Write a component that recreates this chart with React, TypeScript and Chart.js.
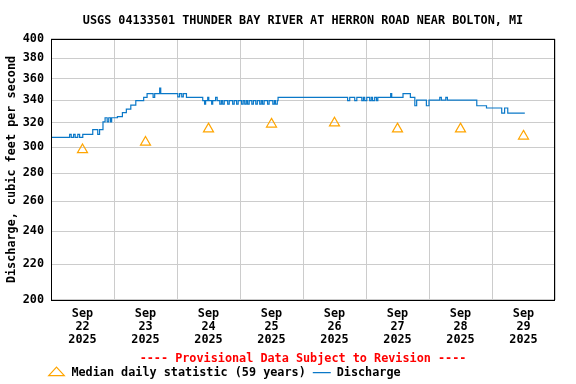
import React, { useEffect, useRef } from 'react';
import { Chart, registerables } from 'chart.js';

Chart.register(...registerables);

const TITLE = 'USGS 04133501 THUNDER BAY RIVER AT HERRON ROAD NEAR BOLTON, MI';
const Y_TITLE = 'Discharge, cubic feet per second';
const PROVISIONAL = '---- Provisional Data Subject to Revision ----';
const MEDIAN_LABEL = 'Median daily statistic (59 years)';
const DISCHARGE_LABEL = 'Discharge';

const MONTH = 'Sep';
const YEAR = '2025';
const DAYS = ['22', '23', '24', '25', '26', '27', '28', '29'];
// hours since Sep 22 00:00
const X_TICK_HOURS = [12, 36, 60, 84, 108, 132, 156, 180];
const Y_TICKS = [200, 220, 240, 260, 280, 300, 320, 340, 360, 380, 400];

const MEDIAN_HOURS = [12, 36, 60, 84, 108, 132, 156, 180];
const MEDIAN_VALUES = [298, 304, 315, 319, 320, 315, 315, 309];

const DISCHARGE_HOURS = [
  0, 7.1, 7.7, 8.6, 9.2, 10.2, 10.9, 12.1, 15.9, 17.8,
  18.5, 19.8, 20.6, 21.4, 22.0, 22.7, 23.1, 25.3, 27.2, 28.7,
  30.4, 32.3, 35.3, 36.6, 38.9, 39.5, 41.4, 41.8, 48.3, 49.0,
  49.8, 50.4, 51.6, 57.8, 58.5, 58.9, 59.7, 60.1, 61.2, 61.6,
  62.7, 63.3, 64.3, 64.9, 65.4, 66.0, 67.3, 67.9, 69.2, 69.8,
  70.7, 71.3, 72.6, 73.2, 73.8, 74.4, 74.9, 75.5, 76.5, 77.1,
  78.0, 78.6, 79.5, 80.1, 80.6, 81.2, 82.5, 83.1, 84.5, 85.1,
  85.5, 86.2, 86.5, 113.0, 113.8, 115.7, 116.5, 118.4, 119.0, 119.5,
  120.3, 121.4, 122.0, 122.5, 123.3, 124.0, 124.5, 129.4, 129.8, 134.1,
  136.9, 138.6, 139.3, 143.0, 144.0, 148.1, 148.7, 150.4, 151.0, 162.2,
  165.9, 171.7, 172.8, 174.0, 180.5,
];
const DISCHARGE_VALUES = [
  308, 310.5, 308, 310.5, 308, 310.5, 308, 310.5, 314.5, 310.5,
  314.5, 321, 324.5, 321, 324.5, 321, 324.5, 325.5, 329, 332,
  335.5, 339.5, 342.5, 346, 342.5, 346, 351, 346, 343, 346,
  343, 346, 342.5, 339.5, 336.5, 339.5, 342.5, 339.5, 336.5, 339.5,
  342.5, 339.5, 336.5, 339.5, 336.5, 339.5, 336.5, 339.5, 336.5, 339.5,
  336.5, 339.5, 336.5, 339.5, 336.5, 339.5, 336.5, 339.5, 336.5, 339.5,
  336.5, 339.5, 336.5, 339.5, 336.5, 339.5, 336.5, 339.5, 336.5, 339.5,
  336.5, 339.5, 342.5, 339.5, 342.5, 339.5, 342.5, 339.5, 342.5, 339.5,
  342.5, 339.5, 342.5, 339.5, 342.5, 339.5, 342.5, 346, 342.5, 346,
  342.5, 335, 340, 335, 340, 342.5, 340, 342.5, 340, 335,
  333, 328.5, 333, 328.5, 328.5,
];

const FONT_FAMILY = "'DejaVu Sans Mono', 'Liberation Mono', monospace";
const FONT_SIZE = 11.8;

const frameAndLegendPlugin = {
  id: 'frameAndLegend',
  afterLayout(chart: any) {
    const lg = chart.legend;
    if (lg) {
      const pad = lg.options.labels.padding;
      lg.left = chart.chartArea.left - 3.5 - pad;
    }
  },
  afterDraw(chart: any) {
    const { ctx, chartArea } = chart;
    ctx.save();
    ctx.strokeStyle = '#000000';
    ctx.lineWidth = 1;
    const l = Math.round(chartArea.left) + 0.5;
    const t = Math.round(chartArea.top) + 0.5;
    const r = Math.round(chartArea.right) - 0.5;
    const b = Math.round(chartArea.bottom) + 0.5;
    ctx.strokeRect(l, t, r - l, b - t);
    ctx.restore();
  },
};

export default function App() {
  const ref = useRef<HTMLCanvasElement>(null);

  useEffect(() => {
    const font = { family: FONT_FAMILY, size: FONT_SIZE, weight: 'bold' as const };
    const chart = new Chart(ref.current!, {
      type: 'line',
      data: {
        datasets: [
          {
            label: MEDIAN_LABEL,
            type: 'scatter' as any,
            data: MEDIAN_HOURS.map((h, i) => ({ x: h, y: MEDIAN_VALUES[i] })),
            pointStyle: 'triangle',
            pointRadius: 5.8,
            pointBorderWidth: 1.2,
            borderColor: '#FFA500',
            backgroundColor: 'rgba(0,0,0,0)',
            showLine: false,
          },
          {
            label: DISCHARGE_LABEL,
            data: DISCHARGE_HOURS.map((h, i) => ({ x: h, y: DISCHARGE_VALUES[i] })),
            stepped: true,
            borderColor: '#0a78c8',
            backgroundColor: '#0a78c8',
            borderWidth: 1.2,
            pointRadius: 0,
            pointStyle: 'line',
            fill: false,
          },
        ],
      },
      options: {
        animation: false,
        responsive: false,
        events: [],
        layout: { padding: { left: 0, right: 21, top: 0, bottom: 0 } },
        scales: {
          x: {
            type: 'linear',
            min: 0,
            max: 192,
            afterBuildTicks: (scale: any) => {
              scale.ticks = X_TICK_HOURS.map((v) => ({ value: v }));
            },
            ticks: {
              autoSkip: false,
              maxRotation: 0,
              minRotation: 0,
              padding: 7.5,
              color: '#000000',
              font: { ...font, lineHeight: '13px' },
              callback: (_v: any, i: number) => [MONTH, DAYS[i], YEAR],
            },
            grid: { color: '#cccccc', lineWidth: 1, offset: true, drawTicks: false },
            border: { display: false },
          },
          y: {
            type: 'logarithmic',
            min: 200,
            max: 400,
            afterBuildTicks: (scale: any) => {
              scale.ticks = Y_TICKS.map((v) => ({ value: v }));
            },
            ticks: {
              autoSkip: false,
              padding: 7,
              color: '#000000',
              font,
              callback: (v: any) => String(v),
            },
            grid: { color: '#cccccc', lineWidth: 1, drawTicks: false },
            border: { display: false },
            title: {
              display: true,
              text: Y_TITLE,
              color: '#000000',
              font,
              padding: { top: 4.6, bottom: -3.06 },
            },
          },
        },
        plugins: {
          title: {
            display: true,
            fullSize: false,
            text: TITLE,
            color: '#000000',
            font,
            padding: { top: 13.4, bottom: 11.4 },
          },
          subtitle: {
            display: true,
            fullSize: false,
            text: PROVISIONAL,
            position: 'bottom',
            weight: 500,
            color: '#FF0000',
            font,
            padding: { top: -2.08, bottom: -6.28 },
          } as any,
          legend: {
            display: true,
            position: 'bottom',
            align: 'start',
            maxHeight: 24.2,
            labels: {
              usePointStyle: true,
              pointStyleWidth: 18,
              boxHeight: 8,
              padding: 7,
              color: '#000000',
              font,
            },
          } as any,
          tooltip: { enabled: false },
        },
      },
      plugins: [frameAndLegendPlugin],
    });
    return () => chart.destroy();
  }, []);

  return (
    <div style={{ position: 'fixed', left: 0, top: 0, width: 576, height: 384, background: '#ffffff' }}>
      <canvas ref={ref} width={576} height={384} style={{ display: 'block' }} />
    </div>
  );
}
